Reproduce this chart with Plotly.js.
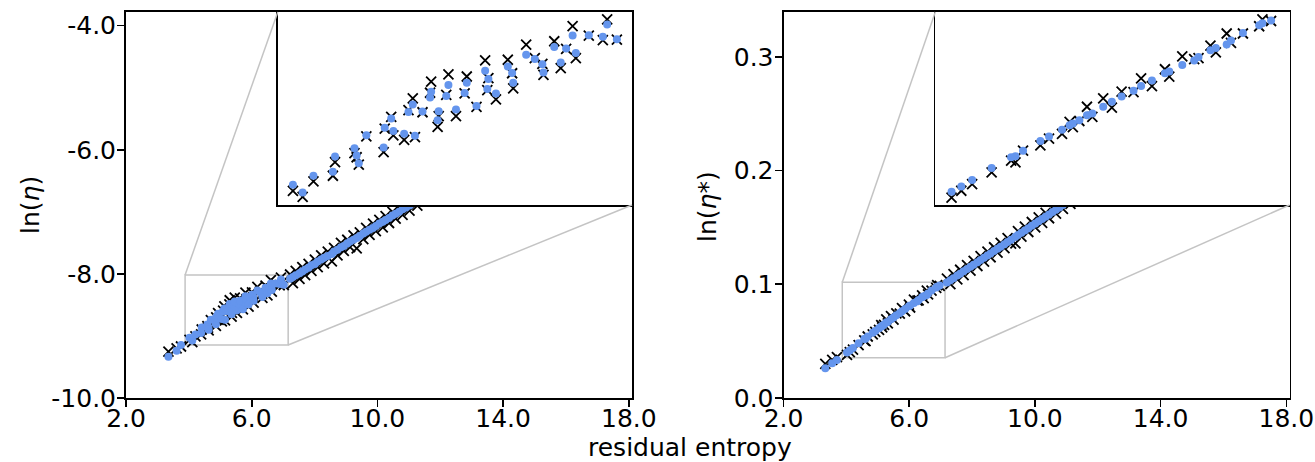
<!DOCTYPE html>
<html>
<head>
<meta charset="utf-8">
<script src="https://cdn.plot.ly/plotly-3.0.1.min.js"></script>
<style>html,body{margin:0;padding:0;background:#fff;}#chart{width:1315px;height:462px;}</style>
</head>
<body>
<div id="chart"></div>
<script>
// ---------------- data ----------------
// residual entropy (x) and values for the left panel: ln(eta)
const xLeft = [3.35,3.61,3.75,4.02,4.11,4.21,4.39,4.41,4.59,4.61,4.63,4.70,4.86,4.87,4.93,4.95,5.05,5.09,5.13,5.15,5.22,5.29,5.30,5.36,5.37,5.44,5.46,5.53,5.61,5.63,5.72,5.80,5.82,5.83,5.90,6.01,6.05,6.06,6.18,6.26,6.33,6.34,6.44,6.50,6.55,6.61,6.64,6.76,6.89,6.93,7.02,
  7.22,7.31,7.40,7.52,7.61,7.70,7.81,7.90,8.01,8.10,8.21,8.30,8.42,8.55,8.62,8.73,8.84,8.93,9.04,9.13,9.24,9.34,9.44,9.55,9.64,9.75,9.86,9.95,10.06,10.17,10.26,10.37,10.48,10.58,10.69,10.80,10.91,11.02,11.14,11.27];
const lnEtaTrue = [-9.254,-9.20,-9.17,-9.063,-9.099,-9.008,-8.975,-8.896,-8.843,-8.867,-8.910,-8.745,-8.837,-8.700,-8.631,-8.739,-8.765,-8.592,-8.523,-8.749,-8.604,-8.490,-8.425,-8.690,-8.627,-8.503,-8.382,-8.627,-8.494,-8.395,-8.572,-8.301,-8.474,-8.405,-8.529,-8.297,-8.376,-8.464,-8.209,-8.287,-8.321,-8.385,-8.189,-8.346,-8.234,-8.101,-8.287,-8.156,-8.183,-8.061,-8.179,
  -8.01,-8.15,-7.95,-8.08,-7.89,-8.02,-7.84,-7.95,-7.77,-7.89,-7.70,-7.83,-7.64,-7.80,-7.58,-7.70,-7.50,-7.63,-7.45,-7.57,-7.38,-7.59,-7.33,-7.44,-7.26,-7.37,-7.19,-7.31,-7.13,-7.25,-7.07,-7.18,-7.00,-7.11,-6.93,-7.05,-6.87,-6.98,-6.80,-6.90];
const lnEtaPred = [-9.335,-9.238,-9.146,-9.028,-9.073,-8.975,-8.951,-8.863,-8.814,-8.857,-8.902,-8.739,-8.810,-8.694,-8.641,-8.714,-8.729,-8.602,-8.558,-8.741,-8.600,-8.517,-8.484,-8.651,-8.598,-8.509,-8.444,-8.588,-8.492,-8.431,-8.568,-8.362,-8.468,-8.409,-8.494,-8.336,-8.374,-8.431,-8.268,-8.293,-8.323,-8.372,-8.222,-8.313,-8.232,-8.156,-8.258,-8.154,-8.163,-8.091,-8.177,
  -8.08,-8.05,-8.02,-7.99,-7.96,-7.93,-7.90,-7.86,-7.84,-7.80,-7.77,-7.74,-7.71,-7.68,-7.64,-7.61,-7.57,-7.55,-7.51,-7.48,-7.45,-7.42,-7.39,-7.35,-7.32,-7.29,-7.26,-7.23,-7.19,-7.16,-7.13,-7.10,-7.06,-7.03,-7.00,-6.96,-6.93,-6.90,-6.86,-6.82];

// right panel: ln(eta*)
const xRight = [3.33,3.55,3.70,4.02,4.11,4.21,4.39,4.57,4.61,4.68,4.84,4.92,5.04,5.11,5.14,5.20,5.27,5.32,5.42,5.50,5.59,5.70,5.77,5.87,5.99,6.03,6.15,6.26,6.30,6.41,6.46,6.56,6.60,6.71,6.86,6.89,6.97,
  7.20,7.31,7.41,7.53,7.62,7.73,7.84,7.95,8.05,8.17,8.27,8.38,8.49,8.59,8.70,8.81,8.91,9.03,9.13,9.24,9.38,9.46,9.57,9.68,9.79,9.90,10.01,10.12,10.23,10.34,10.45,10.56,10.67,10.78,10.89,11.00,11.13];
const lnEtaStarTrue = [0.0300,0.0335,0.0360,0.0379,0.0403,0.0426,0.0466,0.0507,0.0501,0.0541,0.0559,0.0582,0.0599,0.0640,0.0622,0.0643,0.0692,0.0657,0.0721,0.0689,0.0744,0.0742,0.0790,0.0763,0.0821,0.0796,0.0865,0.0856,0.0859,0.0902,0.0879,0.0944,0.0912,0.0944,0.0969,0.0993,0.0987,
  0.1050,0.1002,0.1089,0.1043,0.1128,0.1080,0.1169,0.1121,0.1206,0.1161,0.1247,0.1199,0.1288,0.1238,0.1326,0.1279,0.1365,0.1319,0.1406,0.1358,0.1360,0.1467,0.1419,0.1507,0.1460,0.1548,0.1500,0.1589,0.1541,0.1629,0.1581,0.1670,0.1622,0.1710,0.1663,0.1751,0.1707];
const lnEtaStarPred = [0.0261,0.0305,0.0335,0.0400,0.0418,0.0440,0.0481,0.0518,0.0522,0.0541,0.0574,0.0590,0.0613,0.0628,0.0634,0.0646,0.0663,0.0669,0.0692,0.0709,0.0727,0.0747,0.0763,0.0782,0.0807,0.0813,0.0836,0.0851,0.0863,0.0886,0.0894,0.0906,0.0920,0.0946,0.0972,0.0979,0.0989,
  0.1015,0.1036,0.1054,0.1077,0.1093,0.1114,0.1134,0.1154,0.1172,0.1195,0.1213,0.1233,0.1254,0.1272,0.1292,0.1313,0.1331,0.1353,0.1372,0.1392,0.1418,0.1433,0.1453,0.1473,0.1494,0.1514,0.1534,0.1555,0.1575,0.1595,0.1615,0.1636,0.1656,0.1676,0.1697,0.1717,0.1741];

// axis limits and ticks
const xLim = [2.0, 18.1];
const yLimLeft = [-10.0, -3.78];
const yLimRight = [0.0, 0.3395];
const insetXLeft = [3.88, 7.16];
const insetYLeft = [-9.146, -8.018];
const insetXRight = [3.87, 7.14];
const insetYRight = [0.0354, 0.1018];
const xTicks = [2, 6, 10, 14, 18];
const xTickText = ['2.0', '6.0', '10.0', '14.0', '18.0'];
const yTicksLeft = [-10, -8, -6, -4];
const yTickTextLeft = ['-10.0', '-8.0', '-6.0', '-4.0'];
const yTicksRight = [0.0, 0.1, 0.2, 0.3];
const yTickTextRight = ['0.0', '0.1', '0.2', '0.3'];
const labelLeft = 'ln(<i>η</i>)';
const labelRight = 'ln(<i>η</i>*)';
const labelX = 'residual entropy';

// ---------------- layout geometry (pixels) ----------------
const W = 1315, H = 462;
const px = p => p / W;
const py = p => 1 - p / H;
const mainTop = 12, mainBot = 398;
const leftBox = [126, 632];
const rightBox = [783.5, 1289.5];
const insetFracX = 0.3, insetFracY = 0.5;
const TICKLEN = 7;
const XLABEL_DROP = 3;    // x tick labels: label-axis position below the spine
const YLABEL_SHIFT = -3;  // y tick labels: label-axis position relative to tick end

const domLX = [px(leftBox[0]), px(leftBox[1])];
const domRX = [px(rightBox[0]), px(rightBox[1])];
const domY = [py(mainBot), py(mainTop)];
const domLIX = [px(leftBox[0] + insetFracX * (leftBox[1] - leftBox[0])), domLX[1]];
const domRIX = [px(rightBox[0] + insetFracX * (rightBox[1] - rightBox[0])), domRX[1]];
const domIY = [py(mainBot - insetFracY * (mainBot - mainTop)), domY[1]];

const FONT = 'DejaVu Sans';
const FS = 25;
const TICKFONT = {family: FONT, size: FS, color: '#000'};
const LW = 1.6;

// main axes: spines + tick marks
function mainAxis(extra) {
  return Object.assign({
    showgrid: false, zeroline: false, showline: true, mirror: true,
    linecolor: '#000', linewidth: LW, ticks: 'outside', ticklen: TICKLEN,
    tickwidth: LW, tickcolor: '#000', tickmode: 'array', showticklabels: false,
    fixedrange: true, automargin: false
  }, extra);
}
// label axes: overlay the main axes and carry the tick labels
function labelAxis(extra) {
  return Object.assign({
    showgrid: false, zeroline: false, showline: false, anchor: 'free',
    ticks: '', tickmode: 'array', tickfont: TICKFONT, ticklabeloverflow: 'allow',
    fixedrange: true, automargin: false
  }, extra);
}
function insetAxis(extra) {
  return Object.assign({
    showgrid: false, zeroline: false, showline: true, mirror: true,
    linecolor: '#000', linewidth: LW, ticks: '', showticklabels: false,
    fixedrange: true, automargin: false
  }, extra);
}

const blackX = {symbol: 'x-thin', size: 10, color: '#000', line: {width: 1.8, color: '#000'}};
const blueDot = {symbol: 'circle', size: 8, color: '#6495ED', line: {width: 0}};

function pair(xs, yT, yP, xa, ya) {
  return [
    {type: 'scatter', mode: 'markers', x: xs, y: yT, xaxis: xa, yaxis: ya, marker: blackX, hoverinfo: 'skip'},
    {type: 'scatter', mode: 'markers', x: xs, y: yP, xaxis: xa, yaxis: ya, marker: blueDot, hoverinfo: 'skip'}
  ];
}
function emptyTrace(xa, ya) {
  return {type: 'scatter', mode: 'markers', x: [], y: [], xaxis: xa, yaxis: ya, hoverinfo: 'skip'};
}

const data = [].concat(
  pair(xLeft, lnEtaTrue, lnEtaPred, 'x', 'y'),
  pair(xLeft, lnEtaTrue, lnEtaPred, 'x2', 'y2'),
  pair(xRight, lnEtaStarTrue, lnEtaStarPred, 'x3', 'y3'),
  pair(xRight, lnEtaStarTrue, lnEtaStarPred, 'x4', 'y4'),
  [emptyTrace('x5', 'y'), emptyTrace('x', 'y5'), emptyTrace('x6', 'y3'), emptyTrace('x3', 'y6')]
);

function scale(v, range, dom) { return dom[0] + (v - range[0]) / (range[1] - range[0]) * (dom[1] - dom[0]); }

const GRAY = '#c4c4c4';
function zoomShapes(xa, ya, ix, iy, mainXR, mainYR, domX, domIX) {
  return [
    {type: 'rect', xref: xa, yref: ya, x0: ix[0], x1: ix[1], y0: iy[0], y1: iy[1],
     line: {color: GRAY, width: 1.5}, layer: 'below'},
    {type: 'line', xref: 'paper', yref: 'paper',
     x0: scale(ix[0], mainXR, domX), y0: scale(iy[1], mainYR, domY),
     x1: domIX[0], y1: domIY[1], line: {color: GRAY, width: 1.5}, layer: 'above'},
    {type: 'line', xref: 'paper', yref: 'paper',
     x0: scale(ix[1], mainXR, domX), y0: scale(iy[0], mainYR, domY),
     x1: domIX[1], y1: domIY[0], line: {color: GRAY, width: 1.5}, layer: 'above'}
  ];
}

const layout = {
  width: W, height: H,
  margin: {l: 0, r: 0, t: 0, b: 0, pad: 0},
  paper_bgcolor: '#fff', plot_bgcolor: '#fff',
  showlegend: false, hovermode: false,
  font: {family: FONT, size: FS, color: '#000'},
  xaxis: mainAxis({domain: domLX, range: xLim, anchor: 'y', tickvals: xTicks}),
  yaxis: mainAxis({domain: domY, range: yLimLeft, anchor: 'x', tickvals: yTicksLeft}),
  xaxis2: insetAxis({domain: domLIX, range: insetXLeft, anchor: 'y2'}),
  yaxis2: insetAxis({domain: domIY, range: insetYLeft, anchor: 'x2'}),
  xaxis3: mainAxis({domain: domRX, range: xLim, anchor: 'y3', tickvals: xTicks}),
  yaxis3: mainAxis({domain: domY, range: yLimRight, anchor: 'x3', tickvals: yTicksRight}),
  xaxis4: insetAxis({domain: domRIX, range: insetXRight, anchor: 'y4'}),
  yaxis4: insetAxis({domain: domIY, range: insetYRight, anchor: 'x4'}),
  xaxis5: labelAxis({overlaying: 'x', side: 'bottom', position: py(mainBot + XLABEL_DROP), range: xLim, tickvals: xTicks, ticktext: xTickText}),
  yaxis5: labelAxis({overlaying: 'y', side: 'left', position: px(leftBox[0] - TICKLEN + YLABEL_SHIFT), range: yLimLeft, tickvals: yTicksLeft, ticktext: yTickTextLeft}),
  xaxis6: labelAxis({overlaying: 'x3', side: 'bottom', position: py(mainBot + XLABEL_DROP), range: xLim, tickvals: xTicks, ticktext: xTickText}),
  yaxis6: labelAxis({overlaying: 'y3', side: 'left', position: px(rightBox[0] - TICKLEN + YLABEL_SHIFT), range: yLimRight, tickvals: yTicksRight, ticktext: yTickTextRight}),
  shapes: [].concat(
    zoomShapes('x', 'y', insetXLeft, insetYLeft, xLim, yLimLeft, domLX, domLIX),
    zoomShapes('x3', 'y3', insetXRight, insetYRight, xLim, yLimRight, domRX, domRIX)
  ),
  annotations: [
    {text: labelLeft, xref: 'paper', yref: 'paper', x: px(30), y: py(205), textangle: -90,
     showarrow: false, xanchor: 'center', yanchor: 'middle', font: {family: FONT, size: FS, color: '#000'}},
    {text: labelRight, xref: 'paper', yref: 'paper', x: px(707), y: py(207), textangle: -90,
     showarrow: false, xanchor: 'center', yanchor: 'middle', font: {family: FONT, size: FS, color: '#000'}},
    {text: labelX, xref: 'paper', yref: 'paper', x: px(690), y: py(447),
     showarrow: false, xanchor: 'center', yanchor: 'middle', font: {family: FONT, size: FS, color: '#000'}}
  ]
};

Plotly.newPlot('chart', data, layout, {staticPlot: true, displayModeBar: false});
</script>
</body>
</html>
